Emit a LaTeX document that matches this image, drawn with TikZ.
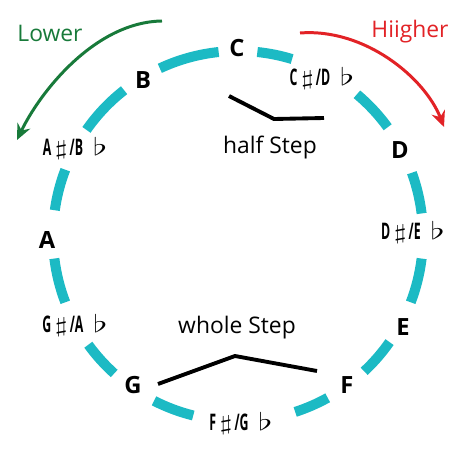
\documentclass[tikz,border=0pt]{standalone}
\usepackage{fontspec}
\setmainfont{Open Sans}
\newfontfamily\narrowfont[FakeStretch=0.54]{Open Sans}
\usepackage{graphicx}
\usepackage{xcolor}
\usetikzlibrary{arrows.meta,positioning,calc}
\definecolor{ringcyan}{RGB}{28,186,196}
\definecolor{lowgreen}{RGB}{24,122,58}
\definecolor{highred}{RGB}{226,34,38}
\newcommand{\notesharp}{\hspace{2pt}\scalebox{1.6}[1.0]{$\sharp$}\hspace{1.2pt}}
\newcommand{\noteflat}{\hspace{5.5pt}\scalebox{1.8}[1.15]{$\flat$}}

\begin{document}
\begin{tikzpicture}[x=0.02cm,y=0.02cm,
    every node/.style={font=\fontsize{13}{15}\selectfont},
    notebox/.style={inner sep=1pt,font=\fontsize{13.5}{15}\selectfont\bfseries},
    accbox/.style={inner sep=1pt,font=\fontsize{13}{15}\selectfont\narrowfont\bfseries},
    ringseg/.style={ringcyan,line width=5.7pt},
    stepline/.style={black,line width=2.2pt},
    sweep/.style={line width=1.7pt,-{Stealth[length=9pt,width=8pt,inset=3pt]}},
]
\useasboundingbox (0,0) rectangle (474,474);
\coordinate (ctr) at (238,238);

% dashed ring
\foreach \a/\b in {96/115,128/145,159/172,187/201,216/228,243/256,288/299,313/325,339/353,7/20,36/50,73/84}
    \draw[ringseg] ($(ctr)+(\a:185)$) arc[start angle=\a,end angle=\b,radius=3.7cm];

% notes
\node[notebox] (nC)  at (237,426) {C};
\node[accbox]  (nCs) at (322,396) {C\notesharp/D\noteflat};
\node[notebox] (nD)  at (400,324) {D};
\node[accbox]  (nDs) at (413,242) {D\notesharp/E\noteflat};
\node[notebox] (nE)  at (403,147) {E};
\node[notebox] (nF)  at (347,89)  {F};
\node[accbox]  (nFs) at (241,51)  {F\notesharp/G\noteflat};
\node[notebox] (nG)  at (133,89)  {G};
\node[accbox]  (nGs) at (75,149)  {G\notesharp/A\noteflat};
\node[notebox] (nA)  at (47,234)  {A};
\node[accbox]  (nAs) at (75,326)  {A\notesharp/B\noteflat};
\node[notebox] (nB)  at (143,394) {B};

% step markers
\coordinate (hs1) at (229,378);
\coordinate (hs2) at (274,355);
\coordinate (hs3) at (324,356);
\draw[stepline] (hs1) -- (hs2) -- (hs3);
\node (half) at (270,326) {half Step};

\coordinate (ws1) at (158,90);
\coordinate (ws2) at (235,118);
\coordinate (ws3) at (317,103);
\draw[stepline] (ws1) -- (ws2) -- (ws3);
\node (whole) at (237,146) {whole Step};

% direction arrows
\coordinate (lo1) at (162,453);
\coordinate (lo2) at (17,334);
\draw[sweep,lowgreen] (lo1) .. controls (95,452) and (40,382) .. (lo2);
\node[lowgreen] (lower) at (50,441) {Lower};

\coordinate (hi1) at (300,441);
\coordinate (hi2) at (444,347);
\draw[sweep,highred] (hi1) .. controls (365,446) and (425,396) .. (hi2);
\node[highred] (higher) at (410,442) {Hiigher};
\end{tikzpicture}
\end{document}
